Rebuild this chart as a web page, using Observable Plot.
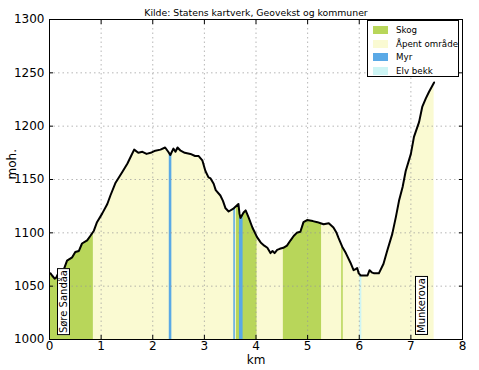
<!DOCTYPE html>
<html><head><meta charset="utf-8">
<script src="https://cdn.jsdelivr.net/npm/d3@7"></script>
<script src="https://cdn.jsdelivr.net/npm/@observablehq/plot@0.6"></script>
<style>
body{margin:0;background:#fff;font-family:"DejaVu Sans",sans-serif;}
#wrap{position:relative;width:479px;height:370px;}
#wrap svg{display:block;}
.lg{position:absolute;background:#fff;border:1px solid #000;font-size:8.7px;box-sizing:border-box;}
.lg .row{position:absolute;left:5px;height:10px;line-height:10px;white-space:nowrap;}
.lg span.sw{position:absolute;left:0;top:1px;width:15px;height:8px;}
.lg span.tx{position:absolute;left:23px;top:0;}
.tag{position:absolute;left:0;top:0;background:#fff;border:1px solid #000;font-size:10px;writing-mode:vertical-rl;transform:rotate(180deg);padding:1px 0px;line-height:11px;white-space:nowrap;}
</style></head>
<body><div id="wrap"></div>
<script>
const title = "Kilde: Statens kartverk, Geovekst og kommuner";
const km =   [0.02,0.05,0.10,0.13,0.18,0.28,0.34,0.44,0.50,0.57,0.63,0.73,0.79,0.86,0.92,1.02,1.12,1.18,1.28,1.41,1.51,1.58,1.64,1.72,1.80,1.88,1.96,2.05,2.15,2.24,2.30,2.34,2.40,2.44,2.48,2.54,2.62,2.73,2.82,2.89,2.96,3.02,3.08,3.12,3.18,3.22,3.31,3.36,3.41,3.47,3.57,3.66,3.68,3.70,3.76,3.80,3.86,3.93,4.02,4.09,4.16,4.22,4.28,4.32,4.36,4.41,4.46,4.53,4.60,4.67,4.73,4.79,4.86,4.92,4.99,5.10,5.19,5.25,5.31,5.41,5.50,5.56,5.60,5.67,5.74,5.83,5.89,5.93,5.96,5.99,6.03,6.16,6.20,6.24,6.29,6.38,6.47,6.54,6.64,6.71,6.77,6.84,6.90,7.00,7.06,7.16,7.22,7.29,7.35,7.45];
const moh =  [1062,1060,1057,1058,1063,1066,1074,1077,1082,1083,1090,1093,1097,1102,1110,1118,1127,1135,1147,1157,1165,1172,1178,1175,1176,1174,1175,1177,1178,1180,1176,1173,1179,1176,1180,1177,1175,1174,1172,1172,1168,1158,1152,1151,1146,1140,1135,1130,1123,1120,1123,1127,1118,1114,1119,1121,1114,1105,1096,1091,1088,1086,1081,1083,1081,1084,1085,1086,1088,1093,1097,1100,1101,1110,1112,1111,1110,1109,1108,1109,1105,1100,1095,1087,1081,1072,1065,1066,1067,1062,1060,1060,1065,1063,1062,1062,1071,1083,1099,1115,1130,1143,1158,1174,1190,1204,1218,1226,1232,1241];

const coverTypes = ["Skog","Åpent område","Myr","Elv bekk"];
const coverColors = ["#b8d65a","#fafad2","#5aa9e6","#cdf5f5"];
// land cover segments along the profile
const segStart = [0.00,0.85,2.32,3.57,3.62,3.68,4.53,5.66,6.01];
const segEnd   = [0.85,7.45,2.37,3.60,4.02,3.75,5.27,5.69,6.05];
const segType  = ["Skog","Åpent område","Myr","Myr","Skog","Myr","Skog","Skog","Elv bekk"];

const places = ["Søre Sandåa","Munkerova"];
const placeKm = [0.28,7.22];

const xTicks = [0,1,2,3,4,5,6,7,8];
const yTicks = [1000,1050,1100,1150,1200,1250,1300];

const profile = km.map((k,i)=>({km:k, moh:moh[i]}));
const elevAt = k => {
  if (k <= km[0]) return moh[0];
  for (let i=1;i<km.length;i++) if (k<=km[i]) {
    const t=(k-km[i-1])/(km[i]-km[i-1]); return moh[i-1]+t*(moh[i]-moh[i-1]);
  }
  return moh[moh.length-1];
};
const segPts = (a,b) => {
  const pts=[{km:a,moh:elevAt(a)}];
  profile.forEach(p=>{ if(p.km>a && p.km<b) pts.push(p); });
  pts.push({km:b,moh:elevAt(b)});
  return pts;
};
const order = [1,0,4,6,7,8,2,3,5];
const areaMarks = order.map(i => Plot.areaY(segPts(segStart[i],segEnd[i]), {
  x:"km", y1:1000, y2:"moh", fill: coverColors[coverTypes.indexOf(segType[i])], curve:"linear"
}));

const plot = Plot.plot({
  width:479, height:370,
  marginLeft:49, marginRight:17, marginTop:19, marginBottom:31,
  style:{fontFamily:"DejaVu Sans, sans-serif", fontSize:"11px", background:"#fff"},
  x:{domain:[0,8]},
  y:{domain:[1000,1300]},
  marks:[
    ...areaMarks,
    Plot.gridX(xTicks,{stroke:"#999", strokeOpacity:0.7, strokeDasharray:"1.5,3"}),
    Plot.gridY(yTicks,{stroke:"#999", strokeOpacity:0.7, strokeDasharray:"1.5,3"}),
    Plot.line(profile,{x:"km", y:"moh", stroke:"#000", strokeWidth:2, curve:"linear"}),
    Plot.frame({stroke:"#000", strokeWidth:1}),
    Plot.axisX(xTicks,{anchor:"bottom", tickSize:-4, tickPadding:6, label:null, fontSize:12, tickFormat:d=>String(d)}),
    Plot.axisX(xTicks,{anchor:"top", tickSize:-4, tickFormat:()=>"" , label:null}),
    Plot.axisY(yTicks,{anchor:"left", tickSize:-4, tickPadding:9, label:null, fontSize:12, tickFormat:d=>String(d)}),
    Plot.axisY(yTicks,{anchor:"right", tickSize:-4, tickFormat:()=>"", label:null}),
    Plot.text([title],{frameAnchor:"top", dy:-10, fontSize:9.3, fill:"#000"}),
    Plot.text(["km"],{frameAnchor:"bottom", dy:24, fontSize:12, fill:"#000"}),
    Plot.text(["moh."],{frameAnchor:"left", dx:-37, rotate:-90, fontSize:12, fill:"#000"})
  ]
});
const wrap = document.getElementById("wrap");
wrap.appendChild(plot);

const sx = plot.scale("x"), sy = plot.scale("y");
// legend
const lg = document.createElement("div");
lg.className="lg";
lg.style.left="367px"; lg.style.top="20px"; lg.style.width="92px"; lg.style.height="57px";
coverTypes.forEach((t,i)=>{
  const r=document.createElement("div");
  r.className="row";
  r.style.top=(4+i*13.7)+"px";
  r.innerHTML=`<span class="sw" style="background:${coverColors[i]}"></span><span class="tx">${t}</span>`;
  lg.appendChild(r);
});
wrap.appendChild(lg);

// place tags
places.forEach((p,i)=>{
  const d=document.createElement("div");
  d.className="tag"; d.textContent=p;
  wrap.appendChild(d);
  const w=d.offsetWidth, h=d.offsetHeight;
  d.style.left=(sx.apply(placeKm[i])-w/2)+"px";
  d.style.top=(sy.apply(1004)-h)+"px";
});
</script></body></html>
